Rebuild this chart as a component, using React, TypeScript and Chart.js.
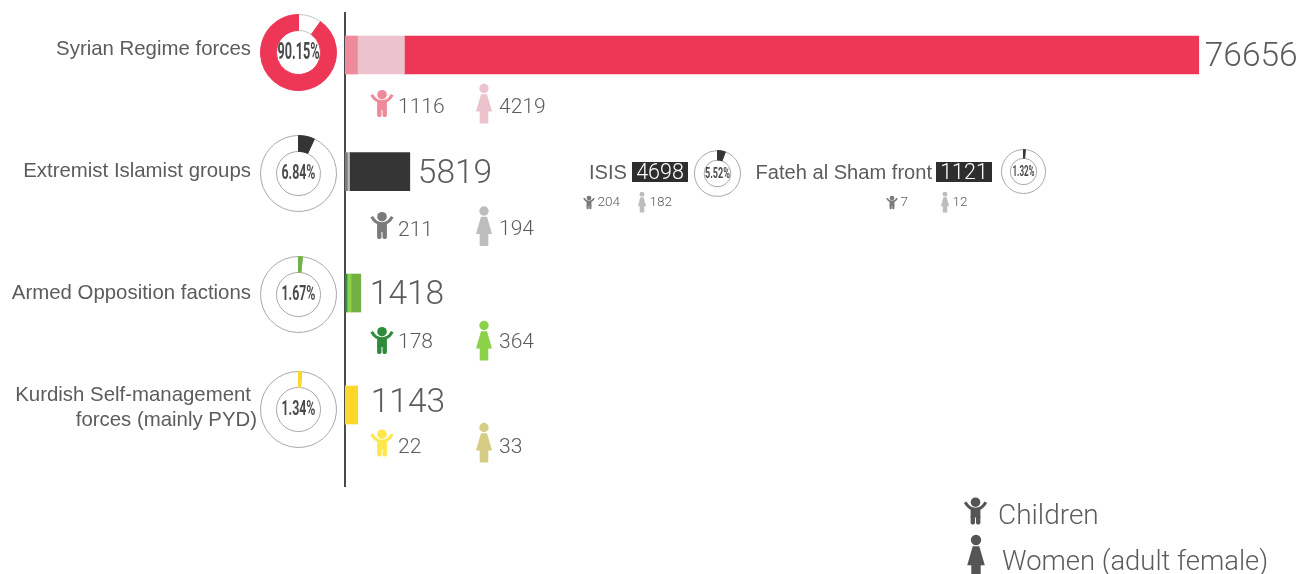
import React, { useEffect, useRef } from "react";
import { Chart, registerables } from "chart.js";

Chart.register(...registerables);

// ---------- data ----------
const categories = ["Syrian Regime forces", "Extremist Islamist groups", "Armed Opposition factions", "Kurdish Self-management forces (mainly PYD)"];
const totals = [76656, 5819, 1418, 1143];
const children = [1116, 211, 178, 22];
const women = [4219, 194, 364, 33];
const shares = [90.15, 6.84, 1.67, 1.34];
const subgroupNames = ["ISIS", "Fateh al Sham front"];
const subgroupTotals = [4698, 1121];
const subgroupChildren = [204, 7];
const subgroupWomen = [182, 12];
const subgroupShares = [5.52, 1.32];
const legendLabels = ["Children", "Women (adult female)"];

// ---------- styles and layout ----------
const mainColors = ["#ee3656", "#353535", "#72b043", "#fdd82a"];
const childColors = ["#ee8a9b", "#7b7b7b", "#2e8b3c", "#fde74c"];
const womenColors = ["#ecc3cc", "#bdbdbd", "#8bd24a", "#d6cc83"];
const rowAxisPositions = [0, 1, 2.04, 3];
const TEXT = "#5c5c5c";
const LIGHT = "Roboto, sans-serif";
const SANS = '"Liberation Sans", Arial, sans-serif';
const W = 1309;
const H = 574;

const labelLines = [["Syrian Regime forces"], ["Extremist Islamist groups"], ["Armed Opposition factions"], ["Kurdish Self-management", "forces (mainly PYD)"]];
const labelRight = [[251], [251], [251], [251, 257]];
const labelY = [[49], [171], [293], [395, 420]];
const totalGap = [6, 8, 9, 13];
const totalNudge = [3, 3, 3, -1];
const subRowText = [108, 231, 343, 448];
const subRowChild = [103.5, 225.5, 340.5, 443];
const subRowWoman = [103.5, 226, 340.5, 442.5];

const donuts = [
  { cx: 298, cy: 52, r: 38, cut: "58%", value: shares[0], color: mainColors[0], big: true, font: 23, tw: 42 },
  { cx: 298, cy: 173, r: 38, cut: "58%", value: shares[1], color: mainColors[1], big: false, font: 19.5, tw: 34 },
  { cx: 298, cy: 294.5, r: 38, cut: "58%", value: shares[2], color: mainColors[2], big: false, font: 19.5, tw: 34 },
  { cx: 298, cy: 409, r: 38, cut: "58%", value: shares[3], color: mainColors[3], big: false, font: 19.5, tw: 34 },
  { cx: 717, cy: 173, r: 23, cut: "58%", value: subgroupShares[0], color: mainColors[1], big: false, font: 15, tw: 25 },
  { cx: 1023, cy: 171.5, r: 22, cut: "60%", value: subgroupShares[1], color: mainColors[1], big: false, font: 14, tw: 22 },
];

function drawChild(ctx: CanvasRenderingContext2D, x: number, y: number, s: number, color: string) {
  ctx.save();
  ctx.translate(x, y);
  ctx.scale(s, s);
  ctx.fillStyle = color;
  ctx.strokeStyle = color;
  ctx.beginPath();
  ctx.arc(0, -8.8, 4.8, 0, Math.PI * 2);
  ctx.fill();
  ctx.lineWidth = 3;
  ctx.lineCap = "butt";
  ctx.beginPath();
  ctx.moveTo(-10.3, -8.8);
  ctx.quadraticCurveTo(-6.5, -1.8, 0, -1.8);
  ctx.quadraticCurveTo(6.5, -1.8, 10.3, -8.8);
  ctx.stroke();
  ctx.beginPath();
  ctx.rect(-4.9, -2, 9.8, 8.5);
  ctx.fill();
  ctx.beginPath();
  ctx.roundRect(-4.9, 4, 4.4, 9.5, 1.8);
  ctx.roundRect(0.5, 4, 4.4, 9.5, 1.8);
  ctx.fill();
  ctx.restore();
}

function drawWoman(ctx: CanvasRenderingContext2D, x: number, y: number, s: number, color: string) {
  ctx.save();
  ctx.translate(x, y);
  ctx.scale(s, s);
  ctx.fillStyle = color;
  ctx.beginPath();
  ctx.arc(0, -15, 4.7, 0, Math.PI * 2);
  ctx.fill();
  ctx.beginPath();
  ctx.moveTo(-3, -9.3);
  ctx.lineTo(3, -9.3);
  ctx.lineTo(8, 8);
  ctx.lineTo(4.3, 8);
  ctx.lineTo(4.3, 20);
  ctx.lineTo(-4.3, 20);
  ctx.lineTo(-4.3, 8);
  ctx.lineTo(-8, 8);
  ctx.closePath();
  ctx.fill();
  ctx.restore();
}

function text(ctx: CanvasRenderingContext2D, s: string, x: number, y: number, font: string, color = TEXT, align: CanvasTextAlign = "left") {
  ctx.font = font;
  ctx.fillStyle = color;
  ctx.textAlign = align;
  ctx.textBaseline = "middle";
  ctx.fillText(s, x, y);
}

const annotations = {
  id: "annotations",
  afterDatasetsDraw(chart: any) {
    const { ctx } = chart;
    const xs = chart.scales.x;
    const ys = chart.scales.y;
    ctx.save();
    // category labels
    labelLines.forEach((lines, i) => lines.forEach((l, j) => text(ctx, l, labelRight[i][j], labelY[i][j], `20.4px ${SANS}`, TEXT, "right")));
    // totals, anchored on each bar's end
    totals.forEach((v, i) => {
      const yPix = ys.getPixelForValue(rowAxisPositions[i]);
      text(ctx, String(v), xs.getPixelForValue(v) + totalGap[i], yPix + totalNudge[i], `300 33.5px ${LIGHT}`);
    });
    // children and women counts
    children.forEach((v, i) => {
      drawChild(ctx, 382, subRowChild[i], 1, childColors[i]);
      text(ctx, String(v), 398, subRowText[i], `300 21px ${LIGHT}`);
    });
    women.forEach((v, i) => {
      drawWoman(ctx, 484, subRowWoman[i], 1, womenColors[i]);
      text(ctx, String(v), 499, subRowText[i] + (i === 1 ? -1 : 0), `300 21px ${LIGHT}`);
    });
    // subgroups
    const nameRight = [627, 932];
    const boxLeft = [632, 936];
    const childX = [589, 892];
    const womanX = [642, 945];
    subgroupNames.forEach((n, i) => {
      text(ctx, n, nameRight[i], 173, `20.1px ${SANS}`, TEXT, "right");
      ctx.fillStyle = "#2e2e2e";
      ctx.fillRect(boxLeft[i], 162, 56, 20);
      text(ctx, String(subgroupTotals[i]), boxLeft[i] + 28, 173.5, `300 21.5px ${LIGHT}`, "#ffffff", "center");
      drawChild(ctx, childX[i], 202.5, 0.5, childColors[1]);
      text(ctx, String(subgroupChildren[i]), childX[i] + 8.5, 203, `300 13.5px ${LIGHT}`);
      drawWoman(ctx, womanX[i], 202, 0.52, womenColors[1]);
      text(ctx, String(subgroupWomen[i]), womanX[i] + 7.5, 203, `300 13.5px ${LIGHT}`);
    });
    // legend
    drawChild(ctx, 975.5, 511, 1, "#555555");
    text(ctx, legendLabels[0], 998, 517, `300 28px ${LIGHT}`);
    drawWoman(ctx, 976, 556.5, 1.1, "#555555");
    text(ctx, legendLabels[1], 1002, 563, `300 27.4px ${LIGHT}`);
    ctx.restore();
  },
};

const centerText = {
  id: "centerText",
  afterDatasetsDraw(chart: any, _a: any, opts: any) {
    const { ctx } = chart;
    const arc = chart.getDatasetMeta(0).data[0];
    ctx.save();
    ctx.font = `bold ${opts.font}px Roboto, sans-serif`;
    ctx.fillStyle = "#4a4a4a";
    ctx.textAlign = "center";
    ctx.textBaseline = "middle";
    ctx.fillText(opts.label, arc.x, arc.y + 1, opts.width);
    ctx.restore();
  },
};

function Donut({ d }: { d: (typeof donuts)[number] }) {
  const ref = useRef<HTMLCanvasElement>(null);
  useEffect(() => {
    const rest = +(100 - d.value).toFixed(2);
    const chart = new Chart(ref.current!, {
      type: "doughnut",
      data: {
        labels: ["Other", "Share"],
        datasets: [
          {
            data: [rest, d.value],
            backgroundColor: ["#ffffff", d.color],
            borderColor: [d.big ? "#c4c4c4" : "#a8a8a8", d.color],
            borderWidth: 1,
          },
        ],
      },
      options: {
        responsive: false,
        animation: false,
        cutout: d.cut,
        // the big chart's share ends at the top; the others start there
        rotation: d.big ? 0 : -(rest * 3.6),
        events: [],
        plugins: {
          legend: { display: false },
          tooltip: { enabled: false },
          centerText: { label: d.value.toFixed(2) + "%", font: d.font, width: d.tw },
        } as any,
      },
      plugins: [centerText],
    });
    return () => chart.destroy();
  }, [d]);
  const size = d.r * 2 + 1;
  return (
    <canvas
      ref={ref}
      width={size}
      height={size}
      style={{ position: "absolute", left: d.cx - size / 2, top: d.cy - size / 2, width: size, height: size }}
    />
  );
}

export default function App() {
  const ref = useRef<HTMLCanvasElement>(null);
  useEffect(() => {
    const rowData = (vals: number[]) => vals.map((v, i) => ({ x: v, y: rowAxisPositions[i] }));
    const chart = new Chart(ref.current!, {
      type: "bar",
      data: {
        datasets: [
          { label: "Children", data: rowData(children), backgroundColor: childColors, barThickness: 38 },
          { label: "Women", data: rowData(women), backgroundColor: womenColors, barThickness: 38 },
          { label: "Others", data: rowData(totals.map((t, i) => t - children[i] - women[i])), backgroundColor: mainColors, barThickness: 38 },
        ],
      },
      options: {
        indexAxis: "y",
        responsive: false,
        animation: false,
        events: [],
        layout: { padding: { left: 345, top: 13, bottom: 88, right: 73 } },
        plugins: { legend: { display: false }, tooltip: { enabled: false } },
        scales: {
          x: { type: "linear", stacked: true, min: 0, max: 80000, display: false },
          y: {
            type: "linear",
            stacked: true,
            reverse: true,
            offset: false,
            min: -0.36,
            max: 3.694,
            ticks: { display: false },
            grid: { display: false, offset: false },
            border: { display: true, color: "#4a4a4a", width: 2 },
            afterFit: (s: any) => {
              s.width = 0;
            },
          },
        },
      } as any,
      plugins: [annotations],
    });
    return () => chart.destroy();
  }, []);
  return (
    <div style={{ position: "absolute", left: 0, top: 0, width: W, height: H, overflow: "hidden", background: "#fff" }}>
      <canvas ref={ref} width={W} height={H} style={{ position: "absolute", left: 0, top: 0, width: W, height: H }} />
      {donuts.map((d, i) => (
        <Donut key={i} d={d} />
      ))}
    </div>
  );
}
